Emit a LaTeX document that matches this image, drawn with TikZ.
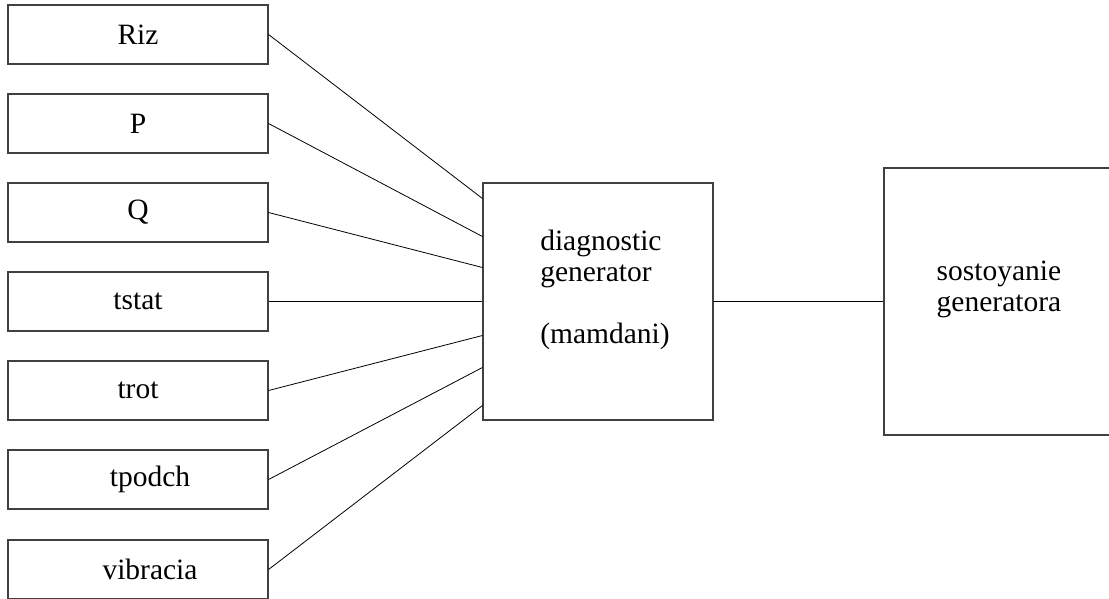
\documentclass[tikz,border=0pt]{standalone}
\usepackage{fontspec}
\setmainfont{Liberation Serif}
\tikzset{
    inbox/.style={draw=black!75, line width=1.1pt, minimum width=260pt, minimum height=59pt,
        inner sep=0pt, font=\fontsize{29.5}{31}\selectfont},
    bigbox/.style={draw=black!75, line width=1.1pt, inner sep=0pt},
    txt/.style={align=left, inner sep=0pt, font=\fontsize{29.5}{31}\selectfont},
    wire/.style={line width=0.8pt}
}
\begin{document}
\begin{tikzpicture}[x=1pt, y=-1pt]
    \useasboundingbox (0,0) rectangle (1109,598);

    % Entradas
    \node[inbox] (riz) at (138,34.5) {Riz};
    \node[inbox] (p) at (138,123.5) {P};
    \node[inbox] (q) at (138,212.5) {Q};
    \node[inbox] (tstat) at (138,301.5) {tstat};
    \node[inbox] (trot) at (138,390.5) {trot};
    \node[inbox] (tpodch) at (138,479.5) {\hspace*{24pt}tpodch};
    \node[inbox] (vibr) at (138,569.5) {\hspace*{24pt}vibracia};

    % Bloco central
    \node[bigbox, minimum width=230pt, minimum height=237pt] (diag) at (598,301.5) {};
    \node[txt] (diagtxt) at (605,290) {diagnostic\\generator\\[31pt](mamdani)};

    % Saida
    \node[bigbox, minimum width=240pt, minimum height=267pt] (state) at (1004,301.5) {};
    \node[txt] (statetxt) at (999,289) {sostoyanie\\generatora};

    % Ligacoes
    \draw[wire] (riz.east) -- ([yshift=103pt]diag.west);
    \draw[wire] (p.east) -- ([yshift=65pt]diag.west);
    \draw[wire] (q.east) -- ([yshift=34pt]diag.west);
    \draw[wire] (tstat.east) -- (diag.west);
    \draw[wire] (trot.east) -- ([yshift=-34pt]diag.west);
    \draw[wire] (tpodch.east) -- ([yshift=-66pt]diag.west);
    \draw[wire] (vibr.east) -- ([yshift=-104pt]diag.west);
    \draw[wire] (diag.east) -- (state.west);
\end{tikzpicture}
\end{document}
